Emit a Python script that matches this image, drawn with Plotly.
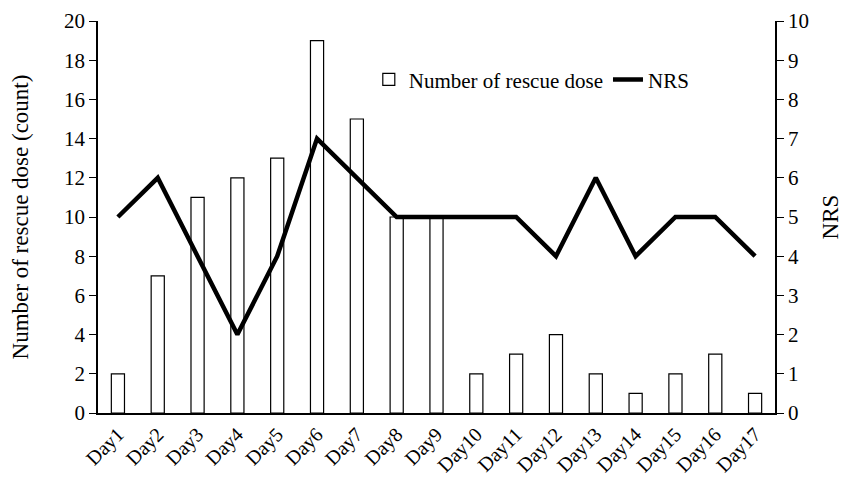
import plotly.graph_objects as go

days = [f"Day{i}" for i in range(1, 18)]
rescue_dose = [2, 7, 11, 12, 13, 19, 15, 10, 10, 2, 3, 4, 2, 1, 2, 3, 1]
nrs = [5, 6, 4, 2, 4, 7, 6, 5, 5, 5, 5, 4, 6, 4, 5, 5, 4]

ff = "Times New Roman, Liberation Serif, serif"

fig = go.Figure()
fig.add_trace(go.Bar(
    x=days, y=rescue_dose, name="Number of rescue dose",
    marker=dict(color="white", line=dict(color="black", width=1.2)),
    width=0.33, yaxis="y",
))
fig.add_trace(go.Scatter(
    x=days, y=nrs, name="NRS", mode="lines",
    line=dict(color="black", width=4.5), yaxis="y2",
))

fig.update_layout(
    width=861, height=488,
    margin=dict(l=90, r=94, t=13, b=83),
    plot_bgcolor="white", paper_bgcolor="white",
    font=dict(family=ff, size=20, color="black"),
    showlegend=True,
    legend=dict(orientation="h", x=0.40, y=0.85, xanchor="left", yanchor="middle",
                bgcolor="rgba(0,0,0,0)", font=dict(family=ff, size=21, color="black")),
    xaxis=dict(
        tickangle=-45, showline=True, linecolor="black", linewidth=1.5,
        ticks="", showgrid=False, automargin=False, ticklabeloverflow="allow",
        tickfont=dict(family=ff, size=20, color="black"),
    ),
    yaxis=dict(
        range=[0, 20], dtick=2, showline=True, linecolor="black", linewidth=1.5,
        ticks="outside", ticklen=7, tickcolor="black", showgrid=False, zeroline=False,
        automargin=False, ticklabeloverflow="allow",
        title=dict(text="Number of rescue dose (count)", font=dict(family=ff, size=23, color="black"), standoff=34),
        tickfont=dict(family=ff, size=21, color="black"),
    ),
    yaxis2=dict(
        range=[0, 10], dtick=1, overlaying="y", side="right",
        showline=True, linecolor="black", linewidth=1.5, automargin=False,
        ticklabeloverflow="allow",
        ticks="outside", ticklen=7, tickcolor="black", showgrid=False, zeroline=False,
        title=dict(text="NRS", font=dict(family=ff, size=23, color="black"), standoff=14),
        tickfont=dict(family=ff, size=21, color="black"),
    ),
)

fig.write_html("out.html")
